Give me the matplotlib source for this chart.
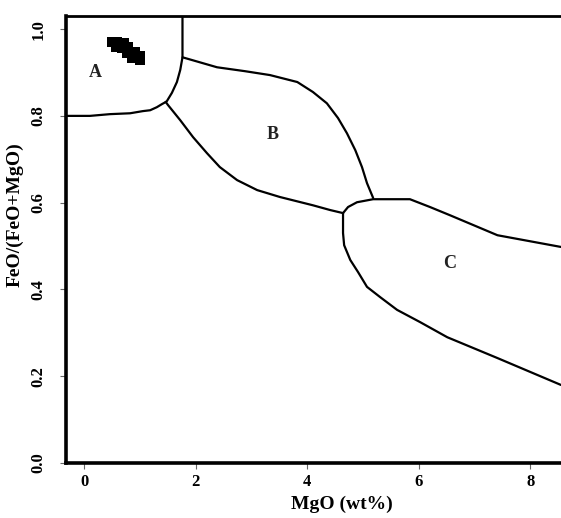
import numpy as np
import matplotlib
matplotlib.use("Agg")
import matplotlib.pyplot as plt

plt.rcParams['font.family'] = ['Liberation Serif', 'DejaVu Serif']
plt.rcParams['font.weight'] = 'bold'

# field boundaries (MgO wt%, FeO/(FeO+MgO))
ab_vert_x = [1.76, 1.76, 1.72, 1.66, 1.57, 1.48, 1.46]
ab_vert_y = [1.03, 0.935, 0.906, 0.878, 0.853, 0.834, 0.832]

a_low_x = [-0.33, 0.10, 0.46, 0.82, 1.05, 1.18, 1.30, 1.39, 1.46]
a_low_y = [0.800, 0.800, 0.804, 0.806, 0.811, 0.813, 0.820, 0.827, 0.832]

b_top_x = [1.76, 2.38, 2.88, 3.33, 3.82, 4.10, 4.35, 4.55, 4.71, 4.86, 4.98, 5.07, 5.18]
b_top_y = [0.935, 0.912, 0.903, 0.894, 0.878, 0.855, 0.829, 0.795, 0.760, 0.721, 0.682, 0.645, 0.611]

b_low_x = [1.46, 1.50, 1.72, 1.95, 2.20, 2.43, 2.74, 3.10, 3.51, 4.10, 4.41, 4.64]
b_low_y = [0.832, 0.825, 0.790, 0.751, 0.714, 0.682, 0.652, 0.629, 0.613, 0.594, 0.583, 0.576]

c_top_x = [4.64, 4.73, 4.89, 5.18, 5.84, 6.20, 6.56, 7.41, 8.55]
c_top_y = [0.576, 0.590, 0.601, 0.608, 0.608, 0.590, 0.571, 0.525, 0.498]

c_low_x = [4.64, 4.64, 4.66, 4.77, 4.91, 5.07, 5.31, 5.61, 6.02, 6.51, 7.41, 8.55]
c_low_y = [0.576, 0.530, 0.502, 0.468, 0.440, 0.406, 0.382, 0.353, 0.325, 0.290, 0.242, 0.180]

# samples
sample_x = [0.49, 0.60, 0.71, 0.57, 0.67, 0.78, 0.82, 0.92, 0.75, 0.89, 1.00, 1.00, 0.85]
sample_y = [0.970, 0.972, 0.968, 0.959, 0.956, 0.959, 0.947, 0.947, 0.945, 0.935, 0.938, 0.929, 0.933]

field_labels = ['A', 'B', 'C']
field_x = [0.19, 3.38, 6.56]
field_y = [0.900, 0.756, 0.461]

xticks = [0, 2, 4, 6, 8]
yticks = [0.0, 0.2, 0.4, 0.6, 0.8, 1.0]

fig = plt.figure(figsize=(5.61, 5.18), dpi=100)
ax = fig.add_axes([0.1176, 0.106, 0.8824, 0.863])

for xs, ys in [(ab_vert_x, ab_vert_y), (a_low_x, a_low_y), (b_top_x, b_top_y),
               (b_low_x, b_low_y), (c_top_x, c_top_y), (c_low_x, c_low_y)]:
    ax.plot(xs, ys, color='black', lw=1.6, solid_joinstyle='round', solid_capstyle='round')

ax.scatter(sample_x, sample_y, marker='s', s=45, color='black', edgecolors='none', zorder=3)

for lab, lx, ly in zip(field_labels, field_x, field_y):
    ax.text(lx, ly, lab, fontsize=13, fontweight='bold', ha='center', va='center', color='#222222')

ax.set_xlim(-0.33, 8.55)
ax.set_ylim(0.0, 1.03)
ax.set_xticks(xticks)
ax.set_xticklabels([str(t) for t in xticks])
ax.set_yticks(yticks)
ax.set_yticklabels(['%.1f' % t for t in yticks])

for side in ['left', 'bottom']:
    ax.spines[side].set_linewidth(2.6)
ax.spines['top'].set_linewidth(2.0)
ax.spines['right'].set_visible(False)

ax.tick_params(axis='both', direction='out', length=4, width=0.8, color='#666666', labelsize=12)
ax.tick_params(axis='y', labelrotation=90, pad=10)
ax.tick_params(axis='x', pad=4)
for t in ax.get_yticklabels():
    t.set_va('center')

ax.set_xlabel('MgO (wt%)', fontsize=14, fontweight='bold')
ax.set_ylabel('FeO/(FeO+MgO)', fontsize=14, fontweight='bold')
ax.xaxis.set_label_coords(0.558, -0.072)
ax.yaxis.set_label_coords(-0.085, 0.555)

fig.savefig('out.png', dpi=100)
